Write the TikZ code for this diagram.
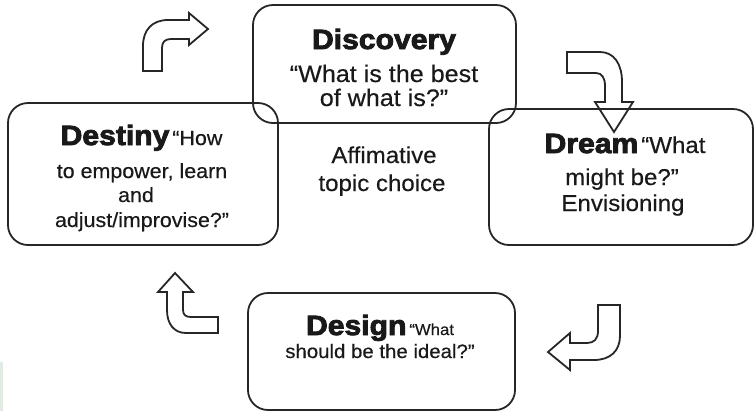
\documentclass[tikz,border=0pt]{standalone}
\usepackage{fontspec}
\setmainfont{Liberation Sans}[FakeStretch=1.05,FakeBold=0.4]
\newfontfamily\heavy{Liberation Sans Bold}[FakeBold=3,FakeStretch=1.08]
\newcommand{\fs}[1]{\fontsize{#1}{#1}\selectfont}
\begin{document}
\begin{tikzpicture}[x=1bp,y=-1bp,
  box/.style={draw=black!85, line width=1.8bp, rounded corners=20bp, inner sep=0pt},
  barrow/.style={draw=black!85, line width=1.8bp, line join=miter},
  txt/.style={anchor=base, inner sep=0pt, text=black!90}]
\useasboundingbox (0,0) rectangle (756,411);
\fill[fill={rgb,255:red,222;green,236;blue,226}] (0,362) rectangle (3,411);

% boxes
\node[box, minimum width=263bp, minimum height=118bp] (discovery) at (384.5,64) {};
\node[box, minimum width=270bp, minimum height=142bp] (destiny) at (143,174) {};
\node[box, minimum width=264bp, minimum height=136bp] (dream) at (621,177) {};
\node[box, minimum width=267bp, minimum height=117bp] (design) at (381.5,351.5) {};

% texts
\node[txt, font=\heavy\fs{28}] (tdisc) at (384,49) {Discovery};
\node[txt, font=\fs{24}] (tdisc2) at (384,82) {“What is the best};
\node[txt, font=\fs{24}] (tdisc3) at (384,106) {of what is?”};

\node[txt] (tdest) at (141.5,145) {{\heavy\fs{28}Destiny} {\fs{20.5}“How}};
\node[txt, font=\fs{20.5}] (tdest2) at (142,178) {to empower, learn};
\node[txt, font=\fs{20.5}] (tdest3) at (136,202) {and};
\node[txt, font=\fs{20.5}] (tdest4) at (142,227) {adjust/improvise?”};

\node[txt] (tdream) at (625,153) {{\heavy\fs{28}Dream} {\fs{23}“What}};
\node[txt, font=\fs{23}] (tdream2) at (622,185) {might be?”};
\node[txt, font=\fs{23}] (tdream3) at (623,211) {Envisioning};

\node[txt] (tdes) at (380,335) {{\heavy\fs{28}Design} {\fs{16}“What}};
\node[txt, font=\fs{19.5}] (tdes2) at (380,358) {should be the ideal?”};

\node[txt, font=\fs{23}] (aff1) at (384,163) {Affimative};
\node[txt, font=\fs{23}] (aff2) at (382,191) {topic choice};

% bent block arrows
\draw[barrow] (143,71) -- (143,46) .. controls (143,30) and (152,20) .. (168,20)
  -- (189,20) -- (189,13) -- (208,29) -- (189,45) -- (189,39) -- (171,39)
  .. controls (165,39) and (162,42) .. (162,48) -- (162,71) -- cycle;

\draw[barrow] (567,52) -- (600,52) .. controls (614,52) and (622,64) .. (622,82)
  -- (622,102) -- (633,102) -- (614,132) -- (595,102) -- (605,102) -- (605,86)
  .. controls (605,78) and (602,73) .. (596,73) -- (567,73) -- cycle;

\draw[barrow] (598,305) -- (620,305) -- (620,336) .. controls (620,351) and (610,360) .. (594,360)
  -- (570,360) -- (570,370) -- (548,352) -- (570,333) -- (570,343) -- (587,343)
  .. controls (594,343) and (598,339) .. (598,331) -- cycle;

\draw[barrow] (175,273) -- (193,292) -- (183,292) -- (183,310)
  .. controls (183,315) and (186,317) .. (191,317) -- (218,317) -- (218,333) -- (186,333)
  .. controls (174,333) and (167,324) .. (167,310) -- (167,292) -- (158,292) -- cycle;
\end{tikzpicture}
\end{document}
